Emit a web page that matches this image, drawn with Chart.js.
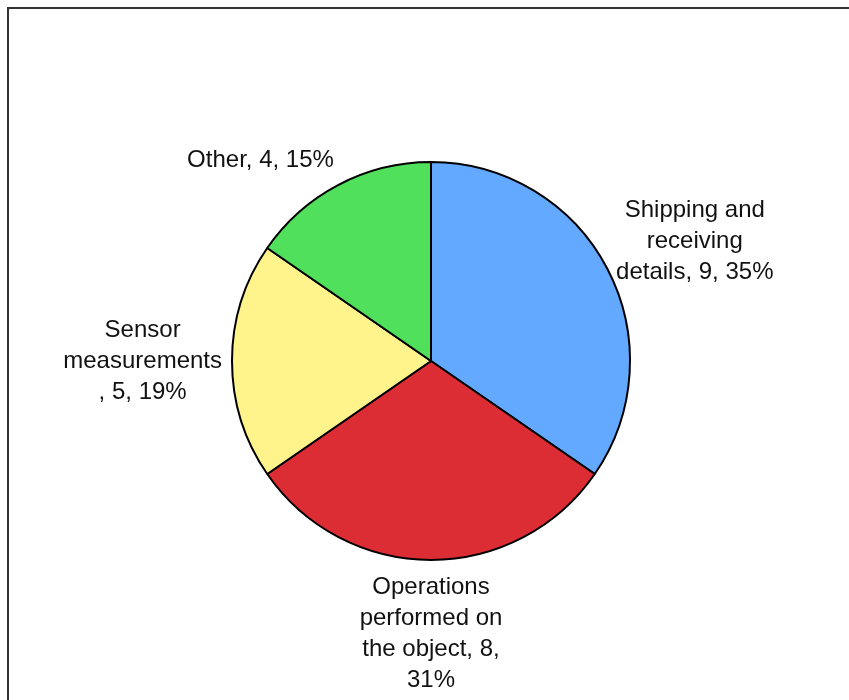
<!DOCTYPE html>
<html>
<head>
<meta charset="utf-8">
<title>Data categories</title>
<script src="https://cdn.jsdelivr.net/npm/chart.js@4.4.0/dist/chart.umd.min.js"></script>
<style>
    html, body {
        margin: 0;
        padding: 0;
        background: #ffffff;
        overflow: hidden;
    }
    #wrap {
        position: relative;
        width: 849px;
        height: 700px;
    }
    /* рамка области диаграммы, уходит за правый и нижний край */
    #frame {
        position: absolute;
        left: 7px;
        top: 7px;
        width: 900px;
        height: 760px;
        border-top: 2px solid #333333;
        border-left: 2px solid #333333;
    }
    #pie {
        position: absolute;
        left: 0;
        top: 0;
    }
</style>
</head>
<body>
<div id="wrap">
    <div id="frame"></div>
    <canvas id="pie" width="849" height="700"></canvas>
</div>
<script>
// Данные диаграммы
const categories = [
    'Shipping and receiving details',
    'Operations performed on the object',
    'Sensor measurements',
    'Other'
];
const values = [9, 8, 5, 4];
const sliceColors = ['#63a9ff', '#dd2d34', '#fff38c', '#50e05b'];

const LABEL_FONT = '24px "Liberation Sans", Arial, Helvetica, sans-serif';
const LINE_HEIGHT = 31;
const WRAP_WIDTH = 161;

// Перенос подписи по словам; если слово с запятой не влезает, запятая уходит на новую строку
function wrapText(ctx, text, maxWidth) {
    const words = text.split(' ');
    const lines = [];
    let line = '';
    words.forEach(word => {
        const test = line ? line + ' ' + word : word;
        if (ctx.measureText(test).width <= maxWidth) {
            line = test;
            return;
        }
        if (line) lines.push(line);
        if (ctx.measureText(word).width > maxWidth && word.endsWith(',')) {
            lines.push(word.slice(0, -1));
            line = ',';
        } else {
            line = word;
        }
    });
    if (line) lines.push(line);
    return lines;
}

// Подписи снаружи секторов: "категория, значение, процент"
const outsideLabels = {
    id: 'outsideLabels',
    afterDatasetsDraw(chart) {
        const ctx = chart.ctx;
        const meta = chart.getDatasetMeta(0);
        const total = values.reduce((a, b) => a + b, 0);

        ctx.save();
        ctx.font = LABEL_FONT;
        ctx.fillStyle = '#111111';
        ctx.textAlign = 'center';
        ctx.textBaseline = 'middle';

        meta.data.forEach((arc, i) => {
            const p = arc.getProps(['x', 'y', 'startAngle', 'endAngle', 'outerRadius'], true);
            const mid = (p.startAngle + p.endAngle) / 2;
            const dx = Math.cos(mid);
            const dy = Math.sin(mid);
            const pct = Math.round(values[i] / total * 100);
            const lines = wrapText(ctx, `${categories[i]}, ${values[i]}, ${pct}%`, WRAP_WIDTH);
            const w = Math.max(...lines.map(l => ctx.measureText(l).width));
            const h = lines.length * LINE_HEIGHT;

            // точка привязки чуть за краем круга, блок текста прижат к ней
            const ax = p.x + dx * (p.outerRadius + 10);
            const ay = p.y + dy * (p.outerRadius + 12);
            const hx = Math.abs(dx) < 0.1 ? 0 : Math.sign(dx);
            const cx = ax + hx * w / 2;
            const cy = ay + dy * h / 2;

            lines.forEach((line, k) => {
                ctx.fillText(line, cx, cy - h / 2 + LINE_HEIGHT * (k + 0.5));
            });
        });
        ctx.restore();
    }
};

new Chart(document.getElementById('pie').getContext('2d'), {
    type: 'pie',
    data: {
        labels: categories,
        datasets: [{
            data: values,
            backgroundColor: sliceColors,
            borderColor: '#000000',
            borderWidth: 2
        }]
    },
    options: {
        responsive: false,
        animation: false,
        radius: 199,
        layout: {
            padding: { left: 13, right: 0, top: 22, bottom: 0 }
        },
        plugins: {
            legend: { display: false },
            tooltip: { enabled: false }
        }
    },
    plugins: [outsideLabels]
});
</script>
</body>
</html>
